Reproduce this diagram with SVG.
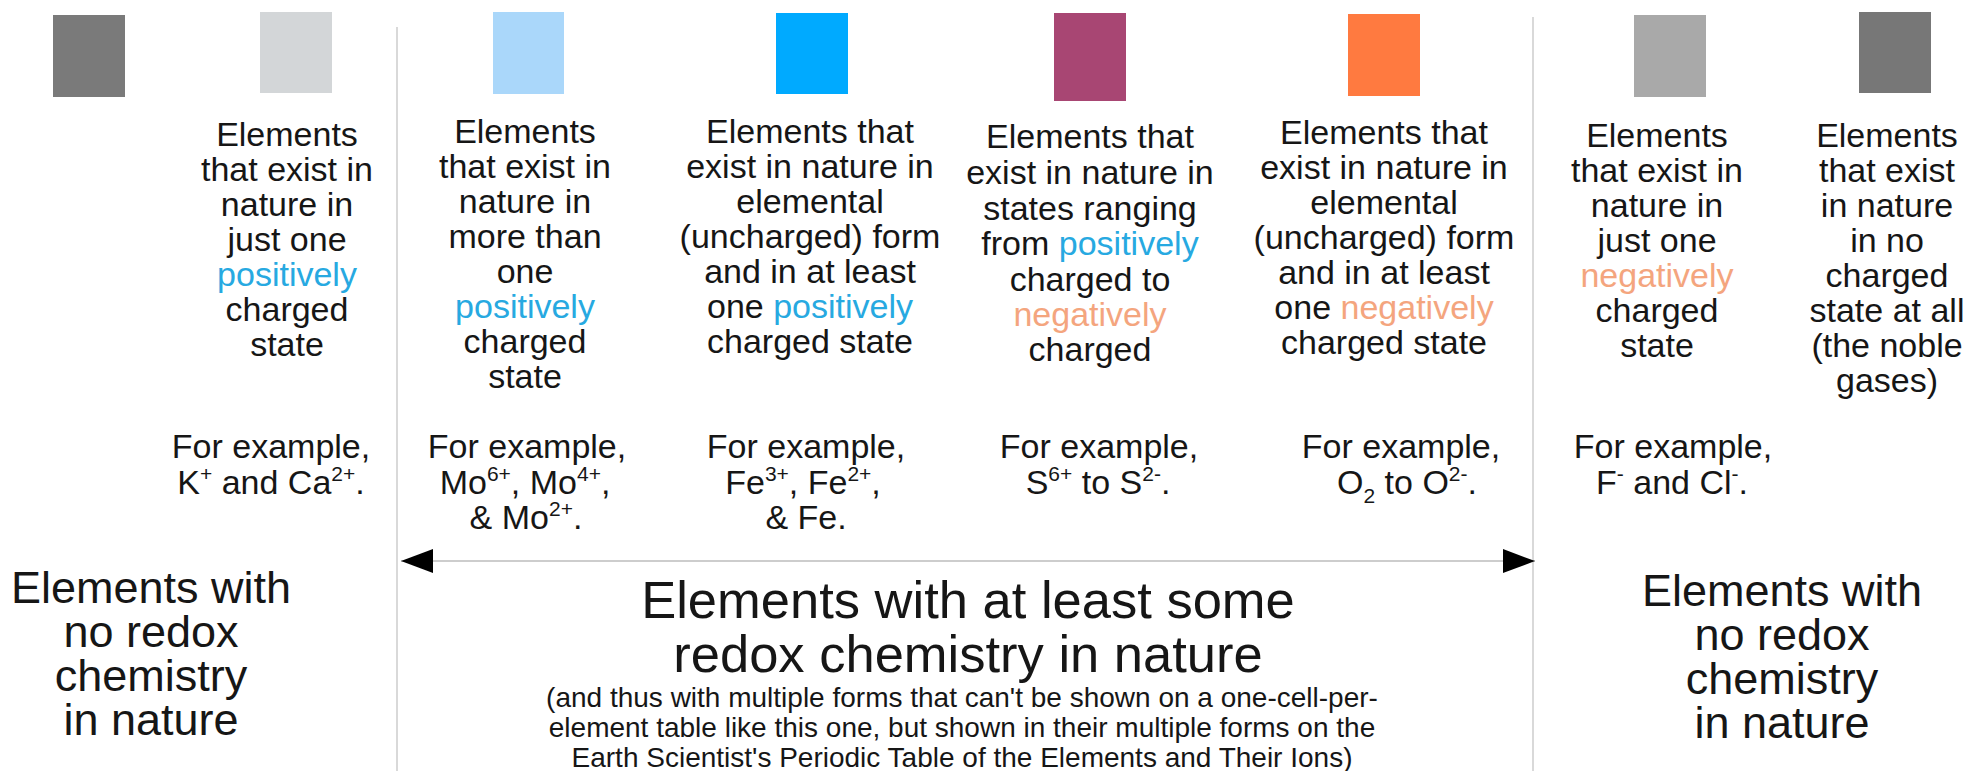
<svg xmlns="http://www.w3.org/2000/svg" width="1968" height="771" viewBox="0 0 1968 771">
<style>
  text { font-family: "Liberation Sans", Arial, sans-serif; fill: #161616; text-anchor: middle; }
  .h { font-size: 34px; }
  .side { font-size: 45px; }
  .big { font-size: 52.5px; }
  .small { font-size: 28px; }
  .pos { fill: #27a9e1; }
  .neg { fill: #f4a57e; }
  .sup { font-size: 21px; }
  .divider { stroke: #cccccc; stroke-width: 1.5; fill: none; }
  .arrow { stroke: #bdbdbd; stroke-width: 1.5; fill: none; }
</style>
<defs>
  <marker id="ah" markerUnits="userSpaceOnUse" markerWidth="32" markerHeight="24" refX="32" refY="12" orient="auto-start-reverse" viewBox="0 0 32 24">
    <path d="M0,0 L32,12 L0,24 z" fill="#000"/>
  </marker>
</defs>
<rect width="1968" height="771" fill="#ffffff"/>

<g id="dividers">
  <line class="divider" x1="397" y1="27" x2="397" y2="771"/>
  <line class="divider" x1="1533" y1="17" x2="1533" y2="771"/>
</g>

<g id="connectors">
  <line class="arrow" x1="401" y1="561" x2="1535" y2="561" marker-start="url(#ah)" marker-end="url(#ah)"/>
</g>

<g id="swatch-noble-left">
  <rect x="53" y="15" width="72" height="82" fill="#7a7a7a"/>
</g>

<g id="col-one-positive">
  <rect x="260" y="12" width="72" height="81" fill="#d3d6d8"/>
  <text class="h" x="287" y="146">Elements</text>
  <text class="h" x="287" y="181">that exist in</text>
  <text class="h" x="287" y="216">nature in</text>
  <text class="h" x="287" y="251">just one</text>
  <text class="h pos" x="287" y="286">positively</text>
  <text class="h" x="287" y="321">charged</text>
  <text class="h" x="287" y="356">state</text>
  <text class="h" x="271" y="458">For example,</text>
  <text class="h" x="271" y="494">K<tspan class="sup" dy="-13">+</tspan><tspan dy="13"> and Ca</tspan><tspan class="sup" dy="-13">2+</tspan><tspan dy="13">.</tspan></text>
</g>

<g id="col-multi-positive">
  <rect x="493" y="12" width="71" height="82" fill="#aad7fa"/>
  <text class="h" x="525" y="143">Elements</text>
  <text class="h" x="525" y="178">that exist in</text>
  <text class="h" x="525" y="213">nature in</text>
  <text class="h" x="525" y="248">more than</text>
  <text class="h" x="525" y="283">one</text>
  <text class="h pos" x="525" y="318">positively</text>
  <text class="h" x="525" y="353">charged</text>
  <text class="h" x="525" y="388">state</text>
  <text class="h" x="527" y="458">For example,</text>
  <text class="h" x="525" y="494">Mo<tspan class="sup" dy="-13">6+</tspan><tspan dy="13">, Mo</tspan><tspan class="sup" dy="-13">4+</tspan><tspan dy="13">,</tspan></text>
  <text class="h" x="526" y="529">&amp; Mo<tspan class="sup" dy="-13">2+</tspan><tspan dy="13">.</tspan></text>
</g>

<g id="col-elemental-positive">
  <rect x="776" y="13" width="72" height="81" fill="#00aaff"/>
  <text class="h" x="810" y="143">Elements that</text>
  <text class="h" x="810" y="178">exist in nature in</text>
  <text class="h" x="810" y="213">elemental</text>
  <text class="h" x="810" y="248">(uncharged) form</text>
  <text class="h" x="810" y="283">and in at least</text>
  <text class="h" x="810" y="318">one <tspan class="pos">positively</tspan></text>
  <text class="h" x="810" y="353">charged state</text>
  <text class="h" x="806" y="458">For example,</text>
  <text class="h" x="803" y="494">Fe<tspan class="sup" dy="-13">3+</tspan><tspan dy="13">, Fe</tspan><tspan class="sup" dy="-13">2+</tspan><tspan dy="13">,</tspan></text>
  <text class="h" x="806" y="529">&amp; Fe.</text>
</g>

<g id="col-range">
  <rect x="1054" y="13" width="72" height="88" fill="#a84673"/>
  <text class="h" x="1090" y="148">Elements that</text>
  <text class="h" x="1090" y="184">exist in nature in</text>
  <text class="h" x="1090" y="220">states ranging</text>
  <text class="h" x="1090" y="255">from <tspan class="pos">positively</tspan></text>
  <text class="h" x="1090" y="291">charged to</text>
  <text class="h neg" x="1090" y="326">negatively</text>
  <text class="h" x="1090" y="361">charged</text>
  <text class="h" x="1099" y="458">For example,</text>
  <text class="h" x="1098" y="494">S<tspan class="sup" dy="-13">6+</tspan><tspan dy="13"> to S</tspan><tspan class="sup" dy="-13">2-</tspan><tspan dy="13">.</tspan></text>
</g>

<g id="col-elemental-negative">
  <rect x="1348" y="14" width="72" height="82" fill="#ff7a40"/>
  <text class="h" x="1384" y="144">Elements that</text>
  <text class="h" x="1384" y="179">exist in nature in</text>
  <text class="h" x="1384" y="214">elemental</text>
  <text class="h" x="1384" y="249">(uncharged) form</text>
  <text class="h" x="1384" y="284">and in at least</text>
  <text class="h" x="1384" y="319">one <tspan class="neg">negatively</tspan></text>
  <text class="h" x="1384" y="354">charged state</text>
  <text class="h" x="1401" y="458">For example,</text>
  <text class="h" x="1407" y="494">O<tspan class="sup" dy="9">2</tspan><tspan dy="-9"> to O</tspan><tspan class="sup" dy="-13">2-</tspan><tspan dy="13">.</tspan></text>
</g>

<g id="col-one-negative">
  <rect x="1634" y="15" width="72" height="82" fill="#a9a9a9"/>
  <text class="h" x="1657" y="147">Elements</text>
  <text class="h" x="1657" y="182">that exist in</text>
  <text class="h" x="1657" y="217">nature in</text>
  <text class="h" x="1657" y="252">just one</text>
  <text class="h neg" x="1657" y="287">negatively</text>
  <text class="h" x="1657" y="322">charged</text>
  <text class="h" x="1657" y="357">state</text>
  <text class="h" x="1673" y="458">For example,</text>
  <text class="h" x="1672" y="494">F<tspan class="sup" dy="-13">-</tspan><tspan dy="13"> and Cl</tspan><tspan class="sup" dy="-13">-</tspan><tspan dy="13">.</tspan></text>
</g>

<g id="col-noble">
  <rect x="1859" y="12" width="72" height="81" fill="#777777"/>
  <text class="h" x="1887" y="147">Elements</text>
  <text class="h" x="1887" y="182">that exist</text>
  <text class="h" x="1887" y="217">in nature</text>
  <text class="h" x="1887" y="252">in no</text>
  <text class="h" x="1887" y="287">charged</text>
  <text class="h" x="1887" y="322">state at all</text>
  <text class="h" x="1887" y="357">(the noble</text>
  <text class="h" x="1887" y="392">gases)</text>
</g>

<g id="label-no-redox-left">
  <text class="side" x="151" y="603">Elements with</text>
  <text class="side" x="151" y="647">no redox</text>
  <text class="side" x="151" y="691">chemistry</text>
  <text class="side" x="151" y="735">in nature</text>
</g>

<g id="label-redox">
  <text class="big" x="968" y="618">Elements with at least some</text>
  <text class="big" x="968" y="672">redox chemistry in nature</text>
  <text class="small" x="962" y="707">(and thus with multiple forms that can't be shown on a one-cell-per-</text>
  <text class="small" x="962" y="737">element table like this one, but shown in their multiple forms on the</text>
  <text class="small" x="962" y="767">Earth Scientist's Periodic Table of the Elements and Their Ions)</text>
</g>

<g id="label-no-redox-right">
  <text class="side" x="1782" y="606">Elements with</text>
  <text class="side" x="1782" y="650">no redox</text>
  <text class="side" x="1782" y="694">chemistry</text>
  <text class="side" x="1782" y="738">in nature</text>
</g>
</svg>
